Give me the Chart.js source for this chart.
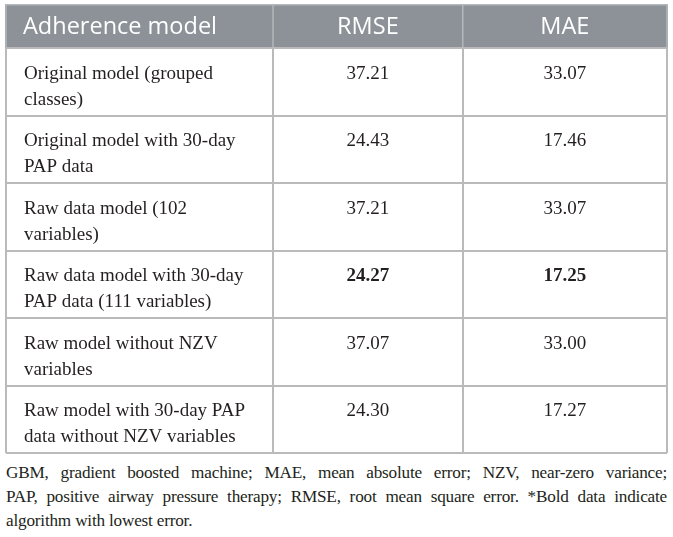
<!DOCTYPE html>
<html>
<head>
<meta charset="utf-8">
<script src="https://cdn.jsdelivr.net/npm/chart.js@4.4.1/dist/chart.umd.min.js"></script>
<style>
    html, body { margin: 0; padding: 0; background: #fff; }
    #wrap { position: relative; width: 673px; height: 456px; }
    #note {
        margin: 5px 6px 0 6px;
        font-family: "Liberation Serif", serif;
        font-size: 17.2px;
        letter-spacing: -0.2px;
        line-height: 24px;
        color: #231f20;
    }
    #note span { display: block; white-space: nowrap; text-align: justify; text-align-last: justify; }
    #note span:last-child { text-align-last: left; }
</style>
</head>
<body>
<div id="wrap"><canvas id="tableChart"></canvas></div>
<p id="note"><span>GBM, gradient boosted machine; MAE, mean absolute error; NZV, near-zero variance;</span><span>PAP, positive airway pressure therapy; RMSE, root mean square error. *Bold data indicate</span><span>algorithm with lowest error.</span></p>

<script>
// Table data
const headers = ['Adherence model', 'RMSE', 'MAE'];
const models = [
    ['Original model (grouped', 'classes)'],
    ['Original model with 30-day', 'PAP data'],
    ['Raw data model (102', 'variables)'],
    ['Raw data model with 30-day', 'PAP data (111 variables)'],
    ['Raw model without NZV', 'variables'],
    ['Raw model with 30-day PAP', 'data without NZV variables']
];
const rmse = ['37.21', '24.43', '37.21', '24.27', '37.07', '24.30'];
const mae = ['33.07', '17.46', '33.07', '17.25', '33.00', '17.27'];
const boldRows = [3];

// Layout (column edges in % of table width)
const colEdges = [0, 40.4, 69.1, 100];
const headerHeight = 44;
const headerBg = '#8c9297';
const lineColor = '#bababa';
const textColor = '#231f20';
const bodyFont = '"Liberation Serif", serif';
const headFont = '"Open Sans", sans-serif';

const rowKeys = models.map(m => m.join(' '));
const cellText = [models, rmse, mae];

const tablePlugin = {
    id: 'tableText',
    beforeDraw(chart) {
        const { ctx, chartArea } = chart;
        const x = chart.scales.x;
        ctx.save();
        ctx.fillStyle = headerBg;
        ctx.fillRect(chartArea.left - 1, chartArea.top - headerHeight, chartArea.right - chartArea.left + 2, headerHeight);
        // faint header dividers
        ctx.strokeStyle = '#b4b8bb';
        ctx.lineWidth = 1.5;
        colEdges.forEach(v => {
            const px = x.getPixelForValue(v);
            ctx.beginPath();
            ctx.moveTo(px, chartArea.top - headerHeight);
            ctx.lineTo(px, chartArea.top);
            ctx.stroke();
        });
        ctx.beginPath();
        ctx.moveTo(chartArea.left - 1, chartArea.top - headerHeight + 0.75);
        ctx.lineTo(chartArea.right + 1, chartArea.top - headerHeight + 0.75);
        ctx.stroke();
        // header text
        ctx.fillStyle = '#ffffff';
        ctx.font = '23.5px ' + headFont;
        ctx.textBaseline = 'middle';
        const hy = chartArea.top - headerHeight / 2 + 1;
        headers.forEach((h, c) => {
            const l = x.getPixelForValue(colEdges[c]);
            const r = x.getPixelForValue(colEdges[c + 1]);
            if (c === 0) {
                ctx.textAlign = 'left';
                ctx.fillText(h, l + 17, hy);
            } else {
                ctx.textAlign = 'center';
                ctx.fillText(h, (l + r) / 2, hy);
            }
        });
        ctx.restore();
    },
    afterDatasetsDraw(chart) {
        const { ctx } = chart;
        ctx.save();
        ctx.fillStyle = textColor;
        ctx.textBaseline = 'middle';
        chart.data.datasets.forEach((ds, c) => {
            chart.getDatasetMeta(c).data.forEach((bar, i) => {
                const top = bar.y - bar.height / 2;
                const l = Math.min(bar.x, bar.base);
                const r = Math.max(bar.x, bar.base);
                const val = cellText[c][i];
                const lines = Array.isArray(val) ? val : [val];
                ctx.font = (c > 0 && boldRows.includes(i) ? 'bold ' : '') + '19px ' + bodyFont;
                ctx.textAlign = c === 0 ? 'left' : 'center';
                const tx = c === 0 ? l + 17 : (l + r) / 2;
                lines.forEach((t, k) => ctx.fillText(t, tx, top + 26 + k * 26));
            });
        });
        ctx.restore();
    }
};

new Chart(document.getElementById('tableChart'), {
    type: 'bar',
    data: {
        labels: rowKeys,
        datasets: headers.map((h, c) => ({
            label: h,
            data: rowKeys.map(() => [colEdges[c], colEdges[c + 1]]),
            backgroundColor: 'rgba(255,255,255,0)',
            borderWidth: 0,
            barPercentage: 1,
            categoryPercentage: 1,
            grouped: false
        }))
    },
    options: {
        indexAxis: 'y',
        responsive: true,
        maintainAspectRatio: false,
        animation: false,
        events: [],
        layout: { padding: { left: 6, right: 6, top: 4 + headerHeight, bottom: 3 } },
        plugins: { legend: { display: false }, tooltip: { enabled: false } },
        scales: {
            x: {
                type: 'linear',
                min: 0,
                max: 100,
                afterBuildTicks: s => { s.ticks = colEdges.map(v => ({ value: v })); },
                ticks: { display: false },
                grid: { color: lineColor, lineWidth: 2, drawTicks: false },
                border: { display: false }
            },
            y: {
                type: 'category',
                offset: true,
                ticks: { display: false },
                grid: { color: lineColor, lineWidth: 2, drawTicks: false, offset: true },
                border: { display: false }
            }
        }
    },
    plugins: [tablePlugin]
});
</script>
</body>
</html>
